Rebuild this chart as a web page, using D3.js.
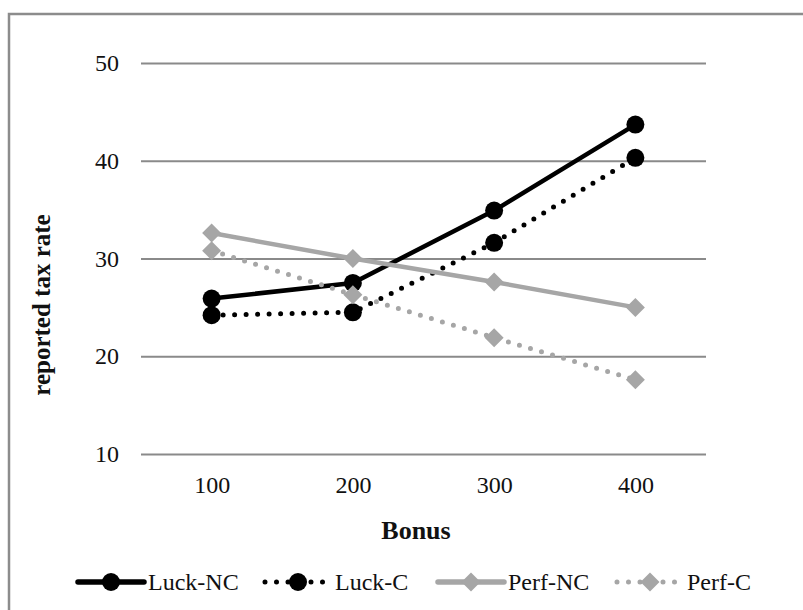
<!DOCTYPE html>
<html>
<head>
<meta charset="utf-8">
<script src="https://cdn.jsdelivr.net/npm/d3@7"></script>
<style>
  html, body { margin: 0; padding: 0; background: #fff; }
  svg { display: block; }
</style>
</head>
<body>
<svg id="chart" width="803" height="610"></svg>
<script>
// ---- Data ----
const categories = ["100", "200", "300", "400"];
const yTicks = [10, 20, 30, 40, 50];
const seriesNames = ["Luck-NC", "Luck-C", "Perf-NC", "Perf-C"];
const luckNC = [25.9, 27.5, 34.9, 43.7];
const luckC  = [24.2, 24.5, 31.6, 40.3];
const perfNC = [32.6, 30.0, 27.6, 25.0];
const perfC  = [30.8, 26.3, 21.9, 17.6];
const xTitle = "Bonus";
const yTitle = "reported tax rate";

// ---- Styles ----
const styles = [
  { color: "#000000", dotted: false, marker: "circle" },
  { color: "#000000", dotted: true,  marker: "circle" },
  { color: "#a6a6a6", dotted: false, marker: "diamond" },
  { color: "#a6a6a6", dotted: true,  marker: "diamond" }
];
const seriesValues = [luckNC, luckC, perfNC, perfC];
const series = seriesNames.map((n, i) => ({ name: n, values: seriesValues[i], style: styles[i] }));

const svg = d3.select("#chart");
const font = "'Liberation Serif', 'Times New Roman', serif";
const gridColor = "#8a8a8a";
const textColor = "#111";

// outer frame (extends beyond right/bottom edges)
svg.append("rect").attr("x", 9).attr("y", 14).attr("width", 820).attr("height", 620)
  .attr("fill", "none").attr("stroke", "#8c8c8c").attr("stroke-width", 2.5);

const plotL = 141, plotR = 706, plotT = 63, plotB = 454;
const x = d3.scalePoint().domain(categories).range([plotL, plotR]).padding(0.5);
const y = d3.scaleLinear().domain([10, 50]).range([plotB, plotT]);

// y axis with gridlines
const yAxis = svg.append("g").attr("transform", `translate(${plotL},0)`)
  .call(d3.axisLeft(y).tickValues(yTicks).tickSize(-(plotR - plotL)).tickPadding(22).tickFormat(d3.format("d")));
yAxis.select(".domain").remove();
yAxis.selectAll(".tick line").attr("stroke", gridColor).attr("stroke-width", 2);
yAxis.selectAll(".tick text").attr("font-family", font).attr("font-size", 24).attr("fill", textColor);

// x axis
const xAxis = svg.append("g").attr("transform", `translate(0,${plotB})`)
  .call(d3.axisBottom(x).tickSize(0).tickPadding(22));
xAxis.select(".domain").remove();
xAxis.selectAll(".tick text").attr("font-family", font).attr("font-size", 24).attr("fill", textColor);

// axis titles
svg.append("text").attr("x", 416).attr("y", 539).attr("text-anchor", "middle")
  .attr("font-family", font).attr("font-size", 26).attr("font-weight", "bold").attr("fill", textColor)
  .text(xTitle);
svg.append("text").attr("transform", "translate(50,305) rotate(-90)").attr("text-anchor", "middle")
  .attr("font-family", font).attr("font-size", 25).attr("font-weight", "bold").attr("fill", textColor)
  .text(yTitle);

// lines
const line = d3.line().x((d, i) => x(categories[i])).y(d => y(d));
function applyLineStyle(sel, st) {
  sel.attr("fill", "none").attr("stroke", st.color).attr("stroke-linejoin", "round");
  if (st.dotted) {
    sel.attr("stroke-width", 5).attr("stroke-linecap", "round").attr("stroke-dasharray", "0 11.5");
  } else {
    sel.attr("stroke-width", 4.5).attr("stroke-linecap", "butt");
  }
}
function drawMarker(g, st, cx, cy, scale) {
  if (st.marker === "circle") {
    g.append("circle").attr("cx", cx).attr("cy", cy).attr("r", 9 * scale).attr("fill", st.color);
  } else {
    const h = 9.5 * scale;
    g.append("path").attr("d", `M${cx},${cy - h}L${cx + h},${cy}L${cx},${cy + h}L${cx - h},${cy}Z`)
      .attr("fill", st.color);
  }
}

series.forEach(s => {
  const g = svg.append("g");
  applyLineStyle(g.append("path").datum(s.values).attr("d", line), s.style);
  s.values.forEach((v, i) => drawMarker(g, s.style, x(categories[i]), y(v), 1));
});

// legend
const legendY = 582;
const legendStarts = [78, 265, 438, 617];
series.forEach((s, i) => {
  const g = svg.append("g");
  const x0 = legendStarts[i], x1 = x0 + 66;
  const p = g.append("path").attr("d", `M${x0},${legendY}L${x1},${legendY}`);
  applyLineStyle(p, s.style);
  if (!s.style.dotted) p.attr("stroke-width", 5.5).attr("stroke-linecap", "round");
  drawMarker(g, s.style, (x0 + x1) / 2, legendY, 1);
  g.append("text").attr("x", x1 + 4).attr("y", legendY).attr("dy", "0.35em")
    .attr("font-family", font).attr("font-size", 24).attr("fill", textColor).text(s.name);
});
</script>
</body>
</html>
